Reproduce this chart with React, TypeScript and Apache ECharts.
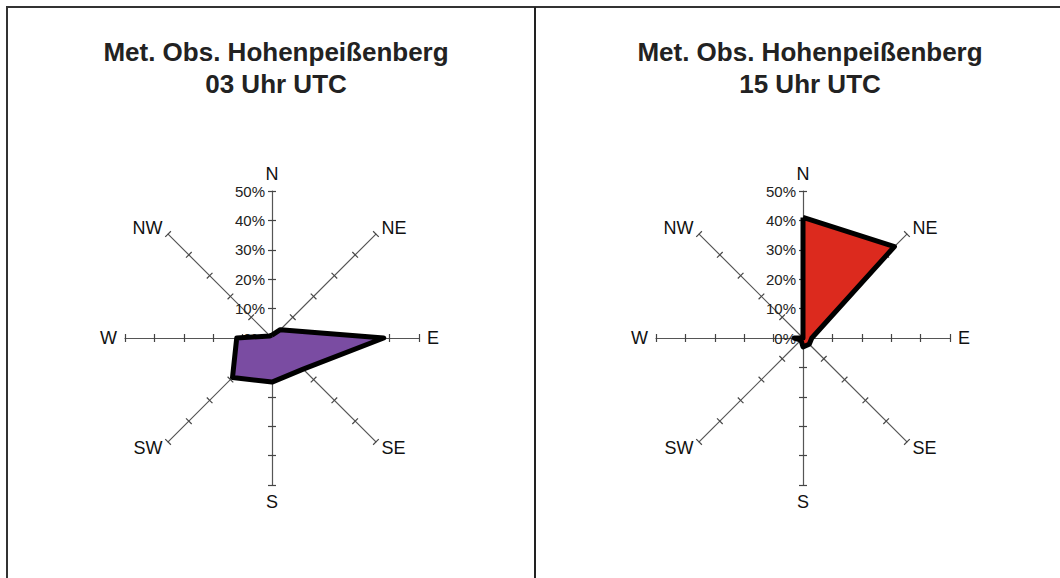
import React, { useEffect, useRef } from "react";
import * as echarts from "echarts";

// Direction order as ECharts radar places them (counter-clockwise from north)
const directions = ["N", "NW", "W", "SW", "S", "SE", "E", "NE"];
const tickLabels = ["0%", "10%", "20%", "30%", "40%", "50%"];
const maxValue = 50;

// 03 Uhr UTC frequencies (%) in the order of `directions`
const values03 = [1, 1, 12, 19, 15, 15, 38, 4];
// 15 Uhr UTC frequencies (%)
const values15 = [41, 0, 3, 1, 3, 3, 3, 44];

const titleMain = "Met. Obs. Hohenpeißenberg";
const subtitle03 = "03 Uhr UTC";
const subtitle15 = "15 Uhr UTC";

const FONT = "Liberation Sans, Arial, sans-serif";

function makeRadar(center: [number, number]) {
  return {
    center,
    radius: 147,
    startAngle: 90,
    splitNumber: 5,
    shape: "polygon",
    indicator: directions.map((d, i) => ({
      name: d,
      min: 0,
      max: maxValue,
      axisLabel: { show: i === 0 },
    })),
    axisName: { color: "#111", fontSize: 18, fontFamily: FONT },
    nameGap: 8,
    axisLine: { lineStyle: { color: "#555", width: 1.2 } },
    axisTick: { show: true, length: 4, lineStyle: { color: "#444", width: 1.2 } },
    axisLabel: {
      show: true,
      color: "#222",
      fontSize: 15,
      fontFamily: FONT,
      formatter: (v: number) => tickLabels[Math.round(v / 10)] ?? "",
      margin: 7,
    },
    splitLine: { show: false },
    splitArea: { show: false },
  };
}

// second radar on the same spot that only draws ticks on the other side of each axis
function makeTickRadar(center: [number, number]) {
  return {
    center,
    radius: 147,
    startAngle: 90,
    splitNumber: 5,
    shape: "polygon",
    indicator: directions.map(() => ({ name: "", min: 0, max: maxValue })),
    axisName: { show: false },
    axisLine: { show: false },
    axisTick: { show: true, length: -4, lineStyle: { color: "#444", width: 1.2 } },
    axisLabel: { show: false },
    splitLine: { show: false },
    splitArea: { show: false },
  };
}

function areaSeries(radarIndex: number, values: number[], name: string, color: string) {
  return {
    type: "radar",
    radarIndex,
    symbol: "none",
    z: 2,
    data: [{ value: values, name, lineStyle: { width: 0, opacity: 0 }, areaStyle: { color, opacity: 1 } }],
  };
}

function outlineSeries(radarIndex: number, values: number[], name: string) {
  return {
    type: "radar",
    radarIndex,
    symbol: "none",
    z: 3,
    data: [{ value: values, name, lineStyle: { color: "#000", width: 5, join: "round" } }],
  };
}

export default function App() {
  const ref = useRef<HTMLDivElement>(null);
  useEffect(() => {
    if (!ref.current) return;
    const chart = echarts.init(ref.current, undefined, { renderer: "svg" });
    const titleStyle = { fontSize: 26, fontWeight: "bold", color: "#222", fontFamily: FONT, lineHeight: 32 };
    chart.setOption({
      animation: false,
      backgroundColor: "#fff",
      title: [
        { text: titleMain + "\n" + subtitle03, left: 271, top: 31, textAlign: "center", textStyle: titleStyle },
        { text: titleMain + "\n" + subtitle15, left: 805, top: 31, textAlign: "center", textStyle: titleStyle },
      ],
      radar: [
        makeRadar([272, 338]),
        makeRadar([803, 338]),
        makeTickRadar([272, 338]),
        makeTickRadar([803, 338]),
      ],
      series: [
        areaSeries(0, values03, subtitle03, "#7a4ca2"),
        outlineSeries(0, values03, subtitle03),
        areaSeries(1, values15, subtitle15, "#dc2a1e"),
        outlineSeries(1, values15, subtitle15),
      ],
      graphic: [
        { type: "line", shape: { x1: 6, y1: 7, x2: 1060, y2: 7 }, style: { stroke: "#333", lineWidth: 2 } },
        { type: "line", shape: { x1: 7, y1: 7, x2: 7, y2: 578 }, style: { stroke: "#333", lineWidth: 2 } },
        { type: "line", shape: { x1: 535, y1: 7, x2: 535, y2: 578 }, style: { stroke: "#222", lineWidth: 2 } },
      ],
    });
    return () => chart.dispose();
  }, []);
  return (
    <div
      ref={ref}
      style={{ position: "absolute", left: 0, top: 0, width: 1060, height: 578 }}
    />
  );
}
